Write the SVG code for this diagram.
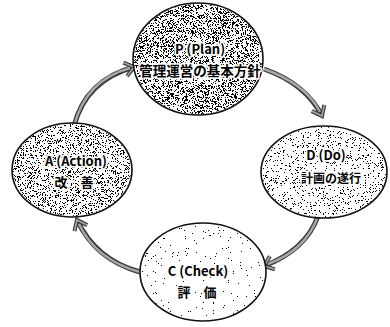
<svg xmlns="http://www.w3.org/2000/svg" width="390" height="327" viewBox="0 0 390 327">
<style>
.base{fill:#fff;stroke:#111;stroke-width:1.6}
.lbl{font-family:"Noto Sans CJK JP","Noto Sans",sans-serif;font-weight:bold;fill:#000;stroke:#fff;stroke-width:3.4;paint-order:stroke;stroke-linejoin:round;text-anchor:middle}
.arc{fill:none;stroke:#3a3a3a;stroke-width:5}
.arcin{fill:none;stroke:#a8a8a8;stroke-width:2.4}
</style>
<defs>
<filter id="s1" x="0" y="0" width="1" height="1" color-interpolation-filters="sRGB">
<feTurbulence type="fractalNoise" baseFrequency="1.4" numOctaves="2" seed="4" result="n"/>
<feColorMatrix in="n" type="matrix" values="0 0 0 0 0 0 0 0 0 0 0 0 0 0 0 1 0 0 0 0" result="a"/>
<feComponentTransfer in="a" result="t"><feFuncA type="discrete" tableValues="0 0 0 0 0 0 0 0 0 0 0 1 1 1 1 1 1 1 1 1"/></feComponentTransfer>
<feComposite in="t" in2="SourceAlpha" operator="in"/>
</filter>
<filter id="s2" x="0" y="0" width="1" height="1" color-interpolation-filters="sRGB">
<feTurbulence type="fractalNoise" baseFrequency="1.4" numOctaves="2" seed="7" result="n"/>
<feColorMatrix in="n" type="matrix" values="0 0 0 0 0 0 0 0 0 0 0 0 0 0 0 1 0 0 0 0" result="a"/>
<feComponentTransfer in="a" result="t"><feFuncA type="discrete" tableValues="0 0 0 0 0 0 0 0 0 0 0 0 0 1 1 1 1 1 1 1"/></feComponentTransfer>
<feComposite in="t" in2="SourceAlpha" operator="in"/>
</filter>
<filter id="s3" x="0" y="0" width="1" height="1" color-interpolation-filters="sRGB">
<feTurbulence type="fractalNoise" baseFrequency="1.4" numOctaves="2" seed="11" result="n"/>
<feColorMatrix in="n" type="matrix" values="0 0 0 0 0 0 0 0 0 0 0 0 0 0 0 1 0 0 0 0" result="a"/>
<feComponentTransfer in="a" result="t"><feFuncA type="discrete" tableValues="0 0 0 0 0 0 0 0 0 0 0 0 0 0 0 1 1 1 1 1"/></feComponentTransfer>
<feComposite in="t" in2="SourceAlpha" operator="in"/>
</filter>
<filter id="s4" x="0" y="0" width="1" height="1" color-interpolation-filters="sRGB">
<feTurbulence type="fractalNoise" baseFrequency="1.4" numOctaves="2" seed="2" result="n"/>
<feColorMatrix in="n" type="matrix" values="0 0 0 0 0 0 0 0 0 0 0 0 0 0 0 1 0 0 0 0" result="a"/>
<feComponentTransfer in="a" result="t"><feFuncA type="discrete" tableValues="0 0 0 0 0 0 0 0 0 0 0 0 1 1 1 1 1 1 1 1"/></feComponentTransfer>
<feComposite in="t" in2="SourceAlpha" operator="in"/>
</filter>
<marker id="ah" markerUnits="userSpaceOnUse" markerWidth="24" markerHeight="24" refX="12" refY="12" orient="auto" viewBox="0 0 24 24">
<path d="M3 5 L12 12 L3 19" fill="none" stroke="#3a3a3a" stroke-width="4"/>
<path d="M3 5 L12 12 L3 19" fill="none" stroke="#a8a8a8" stroke-width="1.6"/>
</marker>
</defs>
<rect width="390" height="327" fill="#fff"/>
<g id="connectors">
<path class="arc" d="M264 69 Q306 84 322 116" marker-end="url(#ah)"/>
<path class="arcin" d="M264 69 Q306 84 320 112"/>
<path class="arc" d="M318 216 Q306 250 264 266" marker-end="url(#ah)"/>
<path class="arcin" d="M318 216 Q306 250 268 264"/>
<path class="arc" d="M140 272 Q96 260 77 220" marker-end="url(#ah)"/>
<path class="arcin" d="M140 272 Q96 260 79 224"/>
<path class="arc" d="M74 126 Q86 80 134 67" marker-end="url(#ah)"/>
<path class="arcin" d="M74 126 Q86 80 130 68"/>
</g>
<g id="nodeP">
<ellipse class="base" cx="198" cy="59" rx="65" ry="56"/>
<ellipse cx="198" cy="59" rx="64" ry="55" fill="#000" filter="url(#s1)"/>
<text class="lbl" x="200" y="54" font-size="13">P (Plan)</text>
<text class="lbl" x="200" y="76" font-size="13.5">管理運営の基本方針</text>
</g>
<g id="nodeD">
<ellipse class="base" cx="324" cy="172" rx="63" ry="46"/>
<ellipse cx="324" cy="172" rx="62" ry="45" fill="#000" filter="url(#s2)"/>
<text class="lbl" x="326" y="160" font-size="13">D (Do)</text>
<text class="lbl" x="331" y="183" font-size="12">計画の遂行</text>
</g>
<g id="nodeC">
<ellipse class="base" cx="203" cy="272" rx="63" ry="49"/>
<ellipse cx="203" cy="272" rx="62" ry="48" fill="#000" filter="url(#s3)"/>
<text class="lbl" x="198" y="276" font-size="13">C (Check)</text>
<text class="lbl" x="197" y="297" font-size="13">評　価</text>
</g>
<g id="nodeA">
<ellipse class="base" cx="72" cy="170" rx="60" ry="47"/>
<ellipse cx="72" cy="170" rx="59" ry="46" fill="#000" filter="url(#s4)"/>
<text class="lbl" x="76" y="166" font-size="13">A (Action)</text>
<text class="lbl" x="74" y="187" font-size="13">改　善</text>
</g>
</svg>
